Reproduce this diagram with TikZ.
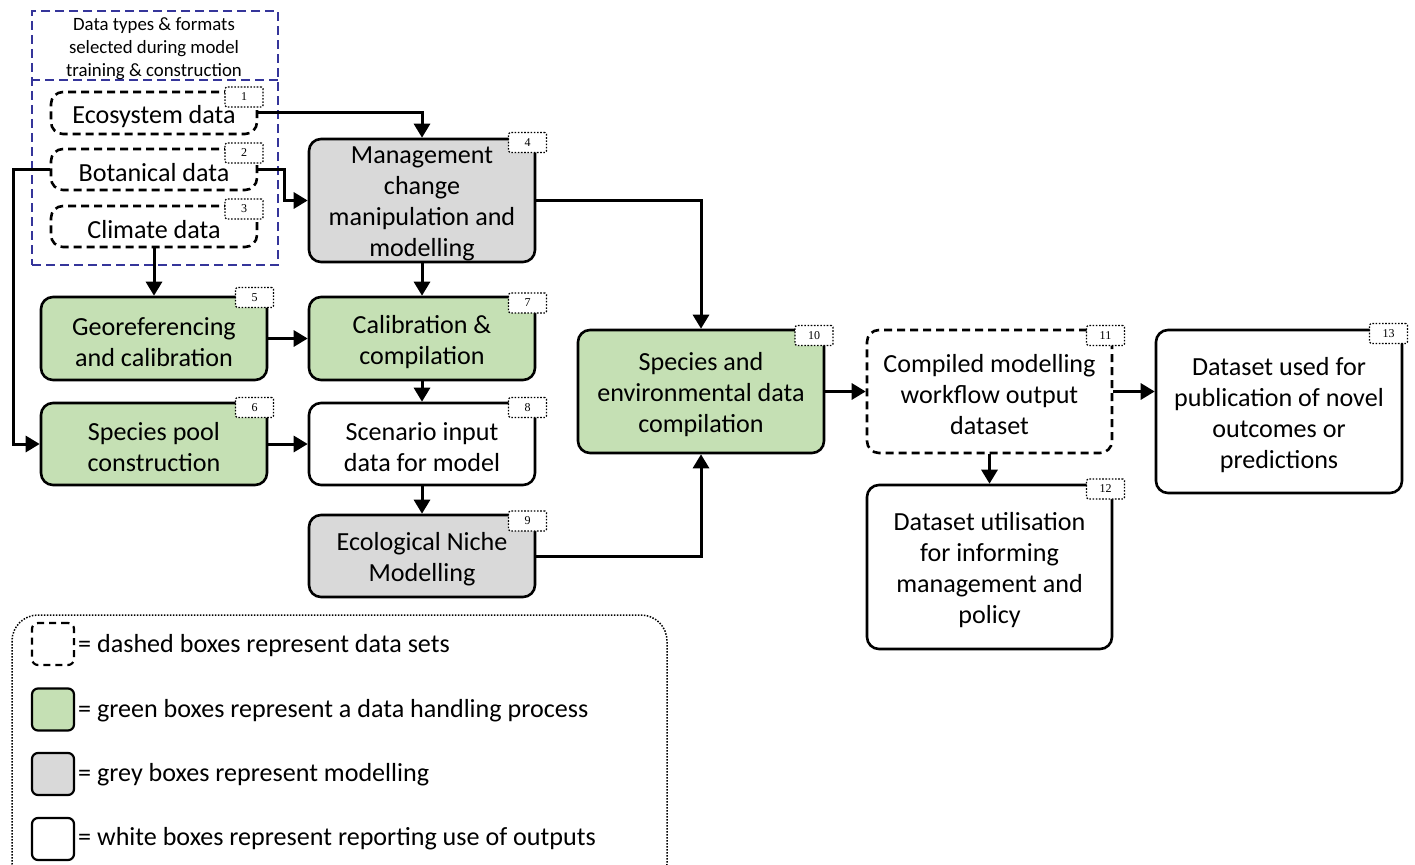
\documentclass[tikz,border=0pt]{standalone}
\usepackage{fontspec}
\setmainfont{Carlito}
\newfontfamily\badgefont{Liberation Serif}
\usetikzlibrary{arrows.meta,calc}

\definecolor{procgreen}{HTML}{C5E0B4}
\definecolor{modgrey}{HTML}{D9D9D9}
\definecolor{groupblue}{HTML}{35359A}

\begin{document}
\begin{tikzpicture}[x=1pt,y=-1pt,
  base/.style={draw, rounded corners=12pt, line width=2.6pt, inner sep=0pt},
  dataset/.style={base, dash pattern=on 8pt off 5pt},
  proc/.style={base, fill=procgreen},
  model/.style={base, fill=modgrey},
  report/.style={base, fill=white},
  boxtext/.style={align=center, inner sep=0pt, font=\fontsize{26.1}{31}\selectfont},
  badge/.style={draw, fill=white, line width=1.3pt, dash pattern=on 1.6pt off 1.6pt,
    rounded corners=1.5pt, minimum width=38pt, minimum height=20pt, inner sep=0pt,
    font=\badgefont\fontsize{12}{12}\selectfont},
  flow/.style={line width=3pt, -{Triangle[length=14pt,width=16pt]}},
  keybox/.style={draw, rounded corners=6pt, line width=2.2pt,
    minimum width=42pt, minimum height=42pt, inner sep=0pt},
  keytext/.style={anchor=base west, inner sep=0pt, font=\fontsize{26.1}{31}\selectfont},
]
\useasboundingbox (0,0) rectangle (1415,864);

% group of input data sets
\node[draw=groupblue, line width=2pt, dash pattern=on 9pt off 5pt,
      minimum width=246pt, minimum height=254pt, inner sep=0pt] (grp) at (155,138) {};
\draw[groupblue, line width=2pt, dash pattern=on 9pt off 5pt]
  ($(grp.north west)+(0,70)$) coordinate (divl) -- (divl -| grp.east) coordinate (divr);
\node[align=center, inner sep=0pt, font=\fontsize{18.8}{23}\selectfont] (grplabel) at (154,49)
  {Data types \& formats\\selected during model\\training \& construction};

% box outlines
\node[dataset, minimum width=206pt, minimum height=42pt] (n1) at (154,113) {};
\node[dataset, minimum width=206pt, minimum height=41pt] (n2) at (154,169.5) {};
\node[dataset, minimum width=206pt, minimum height=41pt] (n3) at (154,226.5) {};
\node[model, minimum width=226pt, minimum height=123pt] (n4) at (422,200.5) {};
\node[proc, minimum width=226pt, minimum height=83pt] (n5) at (154,338.5) {};
\node[proc, minimum width=226pt, minimum height=82pt] (n6) at (154,444) {};
\node[proc, minimum width=226pt, minimum height=83pt] (n7) at (422,338.5) {};
\node[report, minimum width=226pt, minimum height=82pt] (n8) at (422,444) {};
\node[model, minimum width=226pt, minimum height=82pt] (n9) at (422,556) {};
\node[proc, minimum width=246pt, minimum height=123pt] (n10) at (701,391.5) {};
\node[dataset, fill=white, minimum width=245pt, minimum height=123pt] (n11) at (989.5,391.5) {};
\node[report, minimum width=245pt, minimum height=164pt] (n12) at (989.5,567) {};
\node[report, minimum width=246pt, minimum height=163pt] (n13) at (1279,411.5) {};

% box labels, set a little below the geometric centre
\node[boxtext] (l1) at ($(n1)+(0,3.5)$) {Ecosystem data};
\node[boxtext] (l2) at ($(n2)+(0,3.5)$) {Botanical data};
\node[boxtext] (l3) at ($(n3)+(0,3.5)$) {Climate data};
\node[boxtext] (l4) at ($(n4)+(0,3.5)$) {Management\\change\\manipulation and\\modelling};
\node[boxtext] (l5) at ($(n5)+(0,3.5)$) {Georeferencing\\and calibration};
\node[boxtext] (l6) at ($(n6)+(0,3.5)$) {Species pool\\construction};
\node[boxtext] (l7) at ($(n7)+(0,3.5)$) {Calibration \&\\compilation};
\node[boxtext] (l8) at ($(n8)+(0,3.5)$) {Scenario input\\data for model};
\node[boxtext] (l9) at ($(n9)+(0,3.5)$) {Ecological Niche\\Modelling};
\node[boxtext] (l10) at ($(n10)+(0,3.5)$) {Species and\\environmental data\\compilation};
\node[boxtext] (l11) at ($(n11)+(0,3.5)$) {Compiled modelling\\workflow output\\dataset};
\node[boxtext] (l12) at ($(n12)+(0,3.5)$) {Dataset utilisation\\for informing\\management and\\policy};
\node[boxtext] (l13) at ($(n13)+(0,3.5)$) {Dataset used for\\publication of novel\\outcomes or\\predictions};

% number tags
\node[badge] (b1) at (244,97) {1};
\node[badge] (b2) at (244,153) {2};
\node[badge] (b3) at (244,209) {3};
\node[badge] (b4) at (527.5,142.5) {4};
\node[badge] (b5) at (254.5,297.5) {5};
\node[badge] (b6) at (254.5,407.5) {6};
\node[badge] (b7) at (527.5,303) {7};
\node[badge] (b8) at (527.5,407.5) {8};
\node[badge] (b9) at (527.5,521) {9};
\node[badge] (b10) at (814,335.5) {10};
\node[badge] (b11) at (1105.5,335.5) {11};
\node[badge] (b12) at (1105.5,489) {12};
\node[badge] (b13) at (1388.5,333.5) {13};

% connectors
\draw[flow] (n1.east) -| (n4.north);
\draw[flow] (n2.east) -- ++(26,0) |- (n4.west);
\draw[flow] (n2.west) -- ++(-36,0) |- (n6.west);
\draw[flow] (n3.south) -- (n5.north);
\draw[flow] (n4.south) -- (n7.north);
\draw[flow] (n4.east) -| (n10.north);
\draw[flow] (n5.east) -- (n7.west);
\draw[flow] (n6.east) -- (n8.west);
\draw[flow] (n7.south) -- (n8.north);
\draw[flow] (n8.south) -- (n9.north);
\draw[flow] (n9.east) -| (n10.south);
\draw[flow] (n10.east) -- (n11.west);
\draw[flow] (n11.south) -- (n12.north);
\draw[flow] (n11.east) -- (n11.east -| n13.west);

% key
\draw[line width=1.5pt, dash pattern=on 1.5pt off 1.5pt, rounded corners=26pt]
  (12,615) coordinate (keynw) rectangle (667,890) coordinate (keyse);
\node[keybox, dash pattern=on 7pt off 5pt] (k1) at (53,644) {};
\node[keybox, fill=procgreen] (k2) at (53,709.5) {};
\node[keybox, fill=modgrey] (k3) at (53,774) {};
\node[keybox, fill=white] (k4) at (53,839) {};
\node[keytext] (t1) at (78,652) {= dashed boxes represent data sets};
\node[keytext] (t2) at (78,717) {= green boxes represent a data handling process};
\node[keytext] (t3) at (78,781) {= grey boxes represent modelling};
\node[keytext] (t4) at (78,845) {= white boxes represent reporting use of outputs};
\end{tikzpicture}
\end{document}
